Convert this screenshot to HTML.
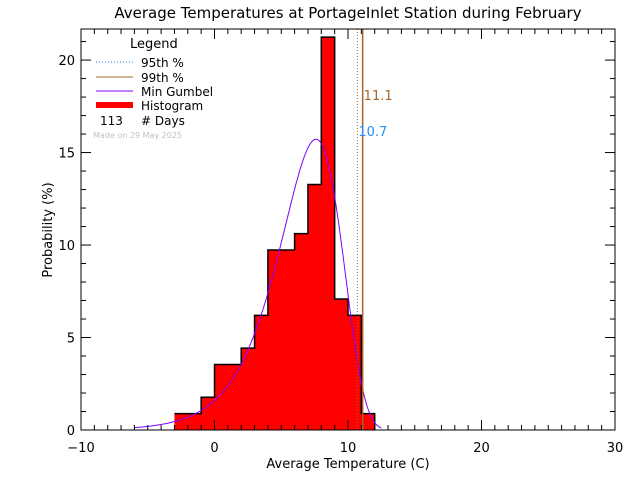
<!DOCTYPE html>
<html><head><meta charset="utf-8"><style>
body{margin:0;background:#fff}
svg text{font-family:"DejaVu Sans","Liberation Sans",sans-serif}
</style></head><body>
<svg id="c" width="640" height="480" xmlns="http://www.w3.org/2000/svg">
<rect width="640" height="480" fill="#fff"/>
<text x="348" y="18" font-size="15" text-anchor="middle">Average Temperatures at PortageInlet Station during February</text>
<g id="plot"></g>
<text x="348" y="468" font-size="13" text-anchor="middle">Average Temperature (C)</text>
<text transform="translate(52,230) rotate(-90)" font-size="13" text-anchor="middle">Probability  (%)</text>
<g>
<text x="130" y="48" font-size="13">Legend</text>
<line x1="96" y1="62" x2="133" y2="62" stroke="#1e90ff" stroke-dasharray="1,2"/>
<text x="141" y="67" font-size="12">95th %</text>
<line x1="96" y1="77" x2="133" y2="77" stroke="#a8642a"/>
<text x="141" y="82" font-size="12">99th %</text>
<line x1="96" y1="91" x2="133" y2="91" stroke="#8000ff"/>
<text x="141" y="96" font-size="12">Min Gumbel</text>
<rect x="96" y="102" width="37" height="6" fill="#f00"/>
<text x="141" y="110" font-size="12">Histogram</text>
<text x="100" y="125" font-size="12">113</text>
<text x="141" y="125" font-size="12"># Days</text>
<text x="93" y="138" font-size="8" fill="#c0c0c0">Made on 29 May 2025</text>
</g>
</svg>
<script>
const binStarts=[-3,-2,-1,0,1,2,3,4,5,6,7,8,9,10,11];
const counts=[1,1,2,4,4,5,7,11,11,12,15,24,8,7,1];
const totalDays=113;
const gumbelParams=[7.6,2.34]; // mu, beta of fitted min Gumbel
const p95=[10.7], p99=[11.1];
const xTicks=[-10,0,10,20,30], yTicks=[0,5,10,15,20];
const L=81,R=615,T=29,B=430,X0=-10,X1=30,Y0=0,Y1=21.68;
const sx=v=>L+(v-X0)/(X1-X0)*(R-L), sy=v=>B-(v-Y0)/(Y1-Y0)*(B-T);
const NS="http://www.w3.org/2000/svg", g=document.getElementById('plot');
function mk(t,a){const e=document.createElementNS(NS,t);for(const k in a)e.setAttribute(k,a[k]);g.appendChild(e);return e;}
// histogram fill
let step='';
binStarts.forEach((b,i)=>{
 const p=counts[i]/totalDays*100;
 const r=mk('rect',{x:sx(b),y:sy(p),width:sx(b+1)-sx(b)+0.5,height:sy(0)-sy(p),fill:'#f00'});
 
 
 step+=(i===0?'M'+sx(b)+','+sy(p):'L'+sx(b)+','+sy(p))+'L'+sx(b+1)+','+sy(p);
});
const lastB=binStarts[binStarts.length-1]+1;
step+='L'+sx(lastB)+','+sy(0);
const so=mk('path',{d:step,fill:'none',stroke:'#000','stroke-width':1.5});


// gumbel curve
let d='';const mu=gumbelParams[0],be=gumbelParams[1];
for(let x=-6;x<=12.5;x+=0.1){const z=(x-mu)/be;const f=100/be*Math.exp(z-Math.exp(z));d+=(d?'L':'M')+sx(x).toFixed(1)+','+sy(f).toFixed(1);}
const cv=mk('path',{d:d,fill:'none',stroke:'#8000ff','stroke-width':1});


// percentile lines
const l95=mk('line',{x1:sx(p95[0]),x2:sx(p95[0]),y1:T,y2:B,stroke:'#a8642a','stroke-dasharray':'1,2'});


const l99=mk('line',{x1:sx(p99[0]),x2:sx(p99[0]),y1:T,y2:B,stroke:'#a8642a','stroke-width':1.5});


const t99=mk('text',{x:sx(p99[0])+1,y:100,'font-size':13,fill:'#a8642a'});t99.textContent=p99[0].toFixed(1);


const t95=mk('text',{x:sx(p95[0])+1,y:136,'font-size':13,fill:'#1e90ff'});t95.textContent=p95[0].toFixed(1);


// frame
const fr=mk('rect',{x:L,y:T,width:R-L,height:B-T,fill:'none',stroke:'#000'});


for(let v=X0;v<=X1;v++){const maj=v%10===0;const len=maj?10:5;
 mk('line',{x1:sx(v),x2:sx(v),y1:B,y2:B-len,stroke:'#000'});mk('line',{x1:sx(v),x2:sx(v),y1:T,y2:T+len,stroke:'#000'});}
for(let v=0;v<=21;v++){const maj=v%5===0;const len=maj?10:5;
 mk('line',{x1:L,x2:L+len,y1:sy(v),y2:sy(v),stroke:'#000'});mk('line',{x1:R,x2:R-len,y1:sy(v),y2:sy(v),stroke:'#000'});}
xTicks.forEach(v=>{const t=mk('text',{x:sx(v),y:452,'font-size':13,'text-anchor':'middle'});t.textContent=v<0?'\u2212'+(-v):v;
 
 });
yTicks.forEach(v=>{const t=mk('text',{x:L-6,y:sy(v)+5,'font-size':13,'text-anchor':'end'});t.textContent=v;
 
 });
</script>
</body></html>
